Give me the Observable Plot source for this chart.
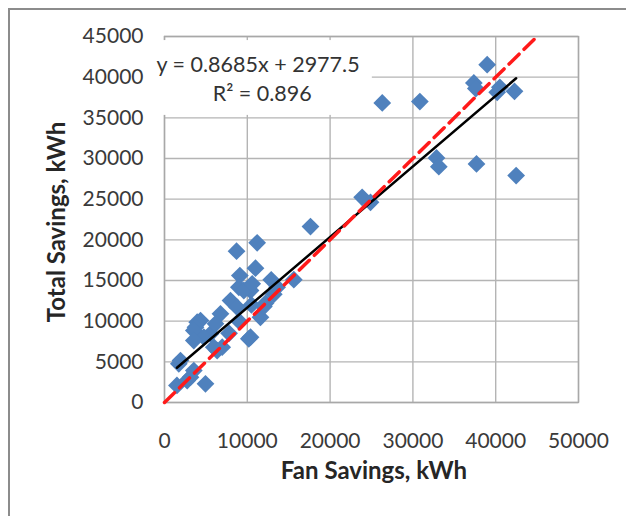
<!DOCTYPE html>
<html>
<head>
<meta charset="utf-8">
<script src="https://cdn.jsdelivr.net/npm/d3@7"></script>
<script src="https://cdn.jsdelivr.net/npm/@observablehq/plot@0.6"></script>
<style>
  html, body { margin: 0; padding: 0; background: #fff; }
  #wrap { position: relative; width: 626px; height: 516px; overflow: hidden; }
  #border { position: absolute; left: 8px; top: 8px; width: 700px; height: 600px;
            border-left: 2px solid #8c8c8c; border-top: 2px solid #8c8c8c; }
  #chart { position: absolute; left: 0; top: 0; }
</style>
</head>
<body>
<div id="wrap"><div id="border"></div><div id="chart"></div></div>
<script>
// Fan savings (x, kWh) and total savings (y, kWh) per site
const fanSavings = [
  26300, 30840, 38970, 37360, 37600, 40500, 40180, 42270, 32850, 33130, 37680, 42470, 23870, 24880, 17630,
  11190, 8700, 10990, 9100, 12890, 15620, 13600, 13200, 12200, 10390, 8980, 9580, 10590,
  7970, 8780, 6760, 4350, 3950, 3740, 3540, 5560, 4750, 3540, 6360, 5950, 6970, 10390, 10180, 11590, 9000, 7800, 10500, 12000, 6160,
  1730, 1930, 1500, 4950, 2740, 3140, 3540
];
const totalSavings = [
  36830, 37000, 41540, 39290, 38600, 38750, 38140, 38260, 30070, 29000, 29330, 27900, 25230, 24620, 21630,
  19630, 18600, 16510, 15610, 15080, 15100, 14170, 13300, 12200, 13770, 14170, 13770, 14590,
  12540, 11710, 10900, 10080, 9870, 9250, 8850, 8440, 8030, 7620, 6390, 6800, 6800, 8030, 7830, 10480, 10000, 8500, 12000, 11800, 9670,
  4750, 5160, 2100, 2300, 2700, 3110, 3930
];
const xTicks = [0, 10000, 20000, 30000, 40000, 50000];
const yTicks = [0, 5000, 10000, 15000, 20000, 25000, 30000, 35000, 40000, 45000];
const trendSlope = 0.8685;
const trendIntercept = 2977.5;
const equalityLine = [0, 45000];
const equationLines = ["y = 0.8685x + 2977.5", "R\u00B2 = 0.896"];
const xTitle = "Fan Savings, kWh";
const yTitle = "Total Savings, kWh";

const points = fanSavings.map((x, i) => ({x, y: totalSavings[i]}));
const xMin = d3.min(fanSavings), xMax = d3.max(fanSavings);
const trend = [xMin, xMax].map(x => ({x, y: trendSlope * x + trendIntercept}));
const ref = equalityLine.map(v => ({x: v, y: v}));
// annotation anchors (data units) for the trendline label, its white box and axis titles
const eqAnchor = [{x: 11300, y: 41500, t: equationLines[0]}, {x: 11800, y: 37900, t: equationLines[1]}];
const eqBox = [{x1: -1930, x2: 25100, y1: 35300, y2: 44500}];
const xTitleAnchor = [{x: 25300, y: -8400, t: xTitle}];
const yTitleAnchor = [{x: -12900, y: 22200, t: yTitle}];

const chart = Plot.plot({
  width: 626,
  height: 516,
  marginLeft: 164,
  marginRight: 48,
  marginTop: 36,
  marginBottom: 114,
  style: {fontFamily: "Lato, 'Open Sans', sans-serif", fontSize: "21px", color: "#3a3a3a", background: "transparent"},
  x: {domain: [0, 50000]},
  y: {domain: [0, 45000]},
  marks: [
    Plot.gridX(xTicks, {stroke: "#b4b4b4", strokeOpacity: 1, strokeWidth: 1.4}),
    Plot.gridY(yTicks, {stroke: "#b4b4b4", strokeOpacity: 1, strokeWidth: 1.4}),
    Plot.frame({stroke: "#a8a8a8", strokeWidth: 1.4}),
    Plot.rect(eqBox, {x1: "x1", x2: "x2", y1: "y1", y2: "y2", fill: "white"}),
    Plot.axisX({ticks: xTicks, tickSize: 0, tickPadding: 31, tickFormat: d => String(d), label: null}),
    Plot.axisY({ticks: yTicks, tickSize: 0, tickPadding: 21, tickFormat: d => String(d), label: null}),
    Plot.dot(points, {x: "x", y: "y", symbol: "diamond2", r: 8, fill: "#4f81bd", stroke: "none"}),
    Plot.line(trend, {x: "x", y: "y", stroke: "black", strokeWidth: 2.5}),
    Plot.line(ref, {x: "x", y: "y", stroke: "#ff1a1a", strokeWidth: 3.5, strokeDasharray: "14,7"}),
    Plot.text(eqAnchor, {x: "x", y: "y", text: "t", fontSize: 21.5, fill: "#333"}),
    Plot.text(xTitleAnchor, {x: "x", y: "y", text: "t", fontSize: 24, fontWeight: "bold", fill: "#262626"}),
    Plot.text(yTitleAnchor, {x: "x", y: "y", text: "t", rotate: -90, fontSize: 24, fontWeight: "bold", fill: "#262626"})
  ]
});
document.getElementById("chart").append(chart);
</script>
</body>
</html>
